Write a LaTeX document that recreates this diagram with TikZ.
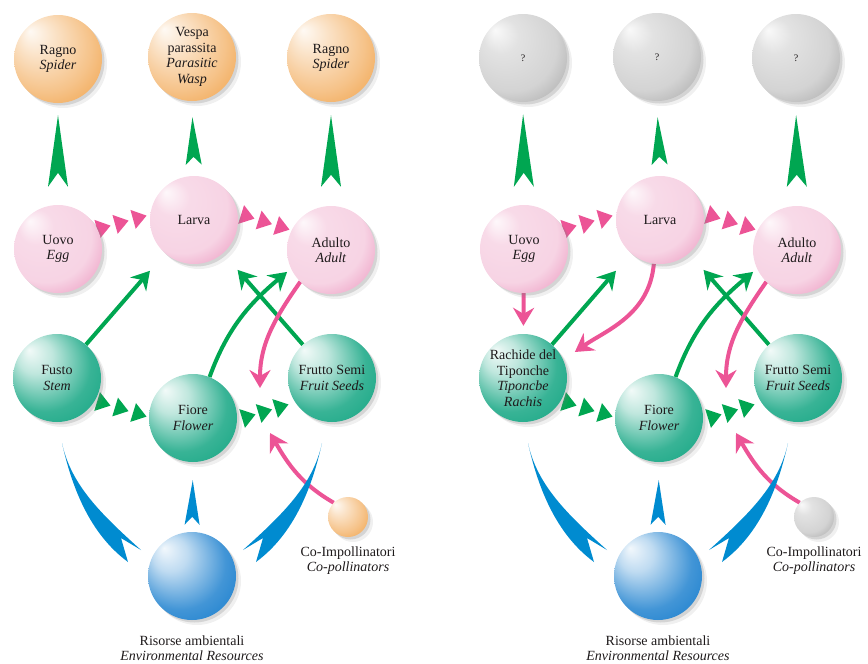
\documentclass[tikz,border=0pt]{standalone}
\usepackage{fontspec}
\setmainfont{Liberation Serif}
\usetikzlibrary{positioning,calc,shadows,shapes.geometric,arrows.meta,backgrounds}

\definecolor{ink}{RGB}{30,26,27}
\definecolor{leaf}{RGB}{0,166,81}
\definecolor{rose}{RGB}{236,84,150}
\definecolor{water}{RGB}{0,139,208}
\definecolor{orbOr}{RGB}{238,145,40}
\definecolor{orbPk}{RGB}{228,110,165}
\definecolor{orbGn}{RGB}{0,158,120}
\definecolor{orbBl}{RGB}{0,112,200}
\definecolor{orbGy}{RGB}{140,140,140}

% sphere look: name, edge colour, body mix
\newcommand\orbshading[3]{%
  \pgfdeclareradialshading{#1}{\pgfqpoint{-16bp}{16bp}}{%
    color(0bp)=(#2!5!white); color(10bp)=(#2!25!white);
    color(26bp)=(#2!#3!white); color(46bp)=(#2)}}
\orbshading{sphorange}{orbOr}{55}
\orbshading{sphpink}{orbPk}{30}
\orbshading{sphgreen}{orbGn}{78}
\orbshading{sphblue}{orbBl}{74}
\orbshading{sphgrey}{orbGy}{38}

% spear: from node, to node, base gap, tip gap, half width, notch, colour
\newcommand\spear[7]{%
  \path ($(#1.north)!#3!(#2.south)$) coordinate (sp-base)
        ($(#2.south)!#4!(#1.north)$) coordinate (sp-tip);
  \fill[#7] (sp-tip) -- ($(sp-base)!#5!90:(sp-tip)$) -- ($(sp-base)!#6!(sp-tip)$)
    -- ($(sp-base)!#5!-90:(sp-tip)$) -- cycle;}

\begin{document}
\begin{tikzpicture}[x=1pt,y=1pt,
  orb/.style={circle,minimum size=88pt,inner sep=0pt,align=center,text=ink,
    font=\fontsize{14}{15.5}\selectfont,
    drop shadow={shadow xshift=2.5pt,shadow yshift=-2.5pt,opacity=.25},
    drop shadow={shadow xshift=5pt,shadow yshift=-5pt,opacity=.12}},
  predator/.style={orb,shading=sphorange},
  unknown/.style={orb,shading=sphgrey,font=\fontsize{10}{12}\selectfont},
  insect/.style={orb,shading=sphpink},
  plant/.style={orb,shading=sphgreen},
  resource/.style={orb,shading=sphblue},
  caption/.style={align=center,inner sep=0pt,text=ink,font=\fontsize{14}{15.5}\selectfont},
  feedarrow/.style={draw=leaf,line width=4pt,-{Stealth[length=18pt,width=21pt,inset=6pt]}},
  growarrow/.style={draw=rose,line width=4pt,-{Stealth[length=18pt,width=21pt,inset=6pt]}},
  beat/.style={isosceles triangle,isosceles triangle apex angle=70,minimum height=14pt,
    inner sep=0pt,fill=#1,sloped}]
\useasboundingbox (0,0) rectangle (868,-664);

% top row
\node[predator] (a-predL) at (58,-59) {Ragno\\\textit{Spider}};
\node[predator] (a-predM) at (192,-57) {Vespa\\parassita\\\textit{Parasitic}\\\textit{Wasp}};
\node[predator] (a-predR) at (331,-58) {Ragno\\\textit{Spider}};
\node[unknown] (b-predL) at (523,-58) {?};
\node[unknown] (b-predM) at (657,-57) {?};
\node[unknown] (b-predR) at (796,-58) {?};

\node[plant] (a-stem) at (57,-378) {Fusto\\\textit{Stem}};
\node[plant] (b-stem) at (523,-378) {Rachide del\\Tiponche\\\textit{Tiponcbe}\\\textit{Rachis}};

\foreach \p/\dx/\sh in {a/0/sphorange,b/466/sphgrey}{
\begin{scope}[xshift=\dx pt]
\node[insect] (\p-egg) at (58,-249) {Uovo\\\textit{Egg}};
\node[insect] (\p-larva) at (194,-220) {Larva};
\node[insect] (\p-adult) at (331,-250) {Adulto\\\textit{Adult}};
\node[plant] (\p-flower) at (193,-418) {Fiore\\\textit{Flower}};
\node[plant] (\p-fruit) at (332,-378) {Frutto Semi\\\textit{Fruit Seeds}};
\node[resource] (\p-env) at (192,-576) {};
\node[orb,shading=\sh,minimum size=40pt] (\p-cop) at (348,-517) {};
\node[caption,below=15pt of \p-env] (\p-envtxt) {Risorse ambientali\\\textit{Environmental Resources}};
\node[caption,below=9pt of \p-cop] (\p-coptxt) {Co-Impollinatori\\\textit{Co-pollinators}};
\coordinate (\p-pollen) at ([shift={(67,30)}]\p-flower.center);
\coordinate (\p-visit) at ([shift={(77,-15)}]\p-flower.center);

\begin{scope}[on background layer]
% life cycle and plant stages
\path ([shift={(44,21)}]\p-egg.center) -- ([shift={(-56,2)}]\p-larva.center)
  node[beat=rose,pos=0]{} node[beat=rose,pos=.5]{} node[beat=rose,pos=1]{};
\path ([shift={(52,4)}]\p-larva.center) -- ([shift={(-50,23)}]\p-adult.center)
  node[beat=rose,pos=0]{} node[beat=rose,pos=.5]{} node[beat=rose,pos=1]{};
\path ([shift={(45,-25)}]\p-stem.center) -- ([shift={(-55,4)}]\p-flower.center)
  node[beat=leaf,pos=0]{} node[beat=leaf,pos=.5]{} node[beat=leaf,pos=1]{};
\path ([shift={(54,1)}]\p-flower.center) -- ([shift={(-52,-29)}]\p-fruit.center)
  node[beat=leaf,pos=0]{} node[beat=leaf,pos=.5]{} node[beat=leaf,pos=1]{};
% feeding
\draw[feedarrow,shorten >=23pt] (\p-stem) -- (\p-larva);
\draw[feedarrow,shorten >=5pt] (\p-flower.68) to[out=70,in=220] (\p-adult.205);
\draw[feedarrow,shorten >=22pt] (\p-fruit) -- (\p-larva);
\draw[growarrow] (\p-adult.226) to[out=235,in=90] (\p-pollen);
\draw[growarrow] (\p-cop.135) to[out=150,in=-60] (\p-visit);
% predators and resources
\spear{\p-egg}{\p-predL}{18pt}{12pt}{10pt}{14pt}{leaf}
\spear{\p-larva}{\p-predM}{11pt}{16pt}{8pt}{8pt}{leaf}
\spear{\p-adult}{\p-predR}{19pt}{13pt}{10pt}{12pt}{leaf}
\spear{\p-env}{\p-flower}{7pt}{18pt}{7.5pt}{8pt}{water}
\fill[water] ([shift={(5,-65)}]\p-stem.center) coordinate (\p-tipL)
  .. controls +(10,-45) and +(-38,28) .. ([shift={(-64,14)}]\p-env.center)
  -- ([shift={(-71,38)}]\p-env.center) -- ([shift={(-51,26)}]\p-env.center)
  .. controls +(-40,36) and +(9,-42) .. (\p-tipL) -- cycle;
\fill[water] ([shift={(-10,-65)}]\p-fruit.center) coordinate (\p-tipR)
  .. controls +(-10,-45) and +(38,28) .. ([shift={(64,14)}]\p-env.center)
  -- ([shift={(71,38)}]\p-env.center) -- ([shift={(51,26)}]\p-env.center)
  .. controls +(40,36) and +(-9,-42) .. (\p-tipR) -- cycle;
\end{scope}
\end{scope}}

% only in the second cycle
\begin{scope}[on background layer]
\draw[growarrow,shorten >=8pt] (b-egg) -- (b-stem);
\draw[growarrow,shorten >=14pt] (b-larva.262) to[out=265,in=35] (b-stem.24);
\end{scope}
\end{tikzpicture}
\end{document}
